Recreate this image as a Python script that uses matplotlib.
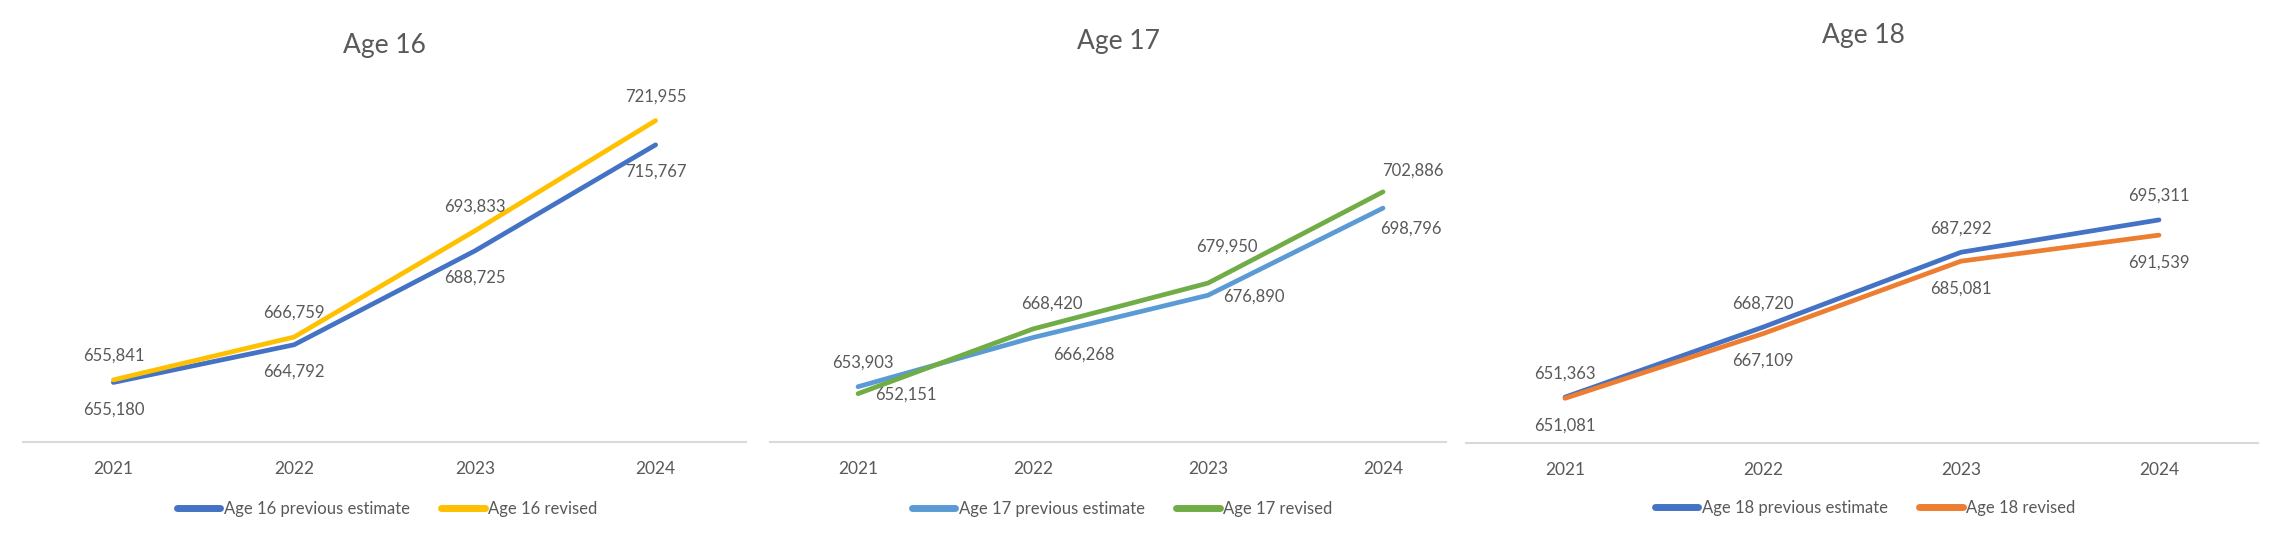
import matplotlib
matplotlib.use("Agg")
import matplotlib.pyplot as plt
from matplotlib.lines import Line2D

plt.rcParams['font.family'] = ['Lato', 'DejaVu Sans']

years = ["2021", "2022", "2023", "2024"]

age16_prev = [655180, 664792, 688725, 715767]
age16_rev = [655841, 666759, 693833, 721955]
age17_prev = [653903, 666268, 676890, 698796]
age17_rev = [652151, 668420, 679950, 702886]
age18_prev = [651363, 668720, 687292, 695311]
age18_rev = [651081, 667109, 685081, 691539]

TEXT = "#595959"
W, H = 2282, 539

fig = plt.figure(figsize=(W / 100, H / 100), dpi=100)


def px_axes(x0, x1, top, bottom):
    return fig.add_axes([x0 / W, 1 - bottom / H, (x1 - x0) / W, (bottom - top) / H])


# (title, series, colours, axes box in px, xlim, title pos, legend pos, label offsets)
panels = [
    ("Age 16",
     [("Age 16 previous estimate", age16_prev, "#4472C4"),
      ("Age 16 revised", age16_rev, "#FFC000")],
     (23, 746, 89, 442), (-0.5, 3.5), (384, 45), (387, 509),
     [[(0, -27)] * 4, [(0, 24)] * 4]),
    ("Age 17",
     [("Age 17 previous estimate", age17_prev, "#5B9BD5"),
      ("Age 17 revised", age17_rev, "#70AD47")],
     (770, 1446, 84, 442), (-0.503, 3.36), (1118, 41), (1122, 509),
     [[(5, 24), (51, -17), (46, -1), (28, -21)],
      [(48, -1), (19, 25), (19, 36), (30, 21)]]),
    ("Age 18",
     [("Age 18 previous estimate", age18_prev, "#4472C4"),
      ("Age 18 revised", age18_rev, "#ED7D31")],
     (1466, 2258, 80, 443), (-0.5, 3.5), (1863, 35), (1865, 508),
     [[(0, 24)] * 4, [(0, -27)] * 4]),
]

for title, series, box, xlim, tpos, lpos, offsets in panels:
    ax = px_axes(*box)
    x = list(range(len(years)))
    handles = []
    for (name, vals, col), offs in zip(series, offsets):
        ax.plot(x, vals, color=col, lw=3.4, solid_capstyle='round',
                solid_joinstyle='round', clip_on=False)
        for xi, v, (dx, dy) in zip(x, vals, offs):
            ax.annotate(f"{v:,}", (xi, v), xytext=(dx, dy),
                        textcoords='offset pixels', ha='center', va='center',
                        fontsize=12, color=TEXT)
        handles.append(Line2D([], [], color=col, lw=5, solid_capstyle='round',
                              label=name))
    ax.set_xlim(*xlim)
    ax.set_ylim(640000, 730000)
    ax.set_xticks(x, years)
    ax.set_yticks([])
    ax.tick_params(axis='x', length=0, pad=14, labelsize=12.5, labelcolor=TEXT)
    for s in ['top', 'left', 'right']:
        ax.spines[s].set_visible(False)
    ax.spines['bottom'].set_color("#D9D9D9")
    ax.spines['bottom'].set_linewidth(1.5)
    ax.patch.set_alpha(0)

    fig.text(tpos[0] / W, 1 - tpos[1] / H, title, ha='center', va='center',
             fontsize=19, color=TEXT)
    fig.legend(handles=handles, loc='center', ncol=2, frameon=False,
               bbox_to_anchor=(lpos[0] / W, 1 - lpos[1] / H),
               fontsize=12, labelcolor=TEXT, handlelength=2.6,
               handletextpad=0.2, columnspacing=1.9)

fig.savefig("out.png", dpi=100, facecolor="white")
